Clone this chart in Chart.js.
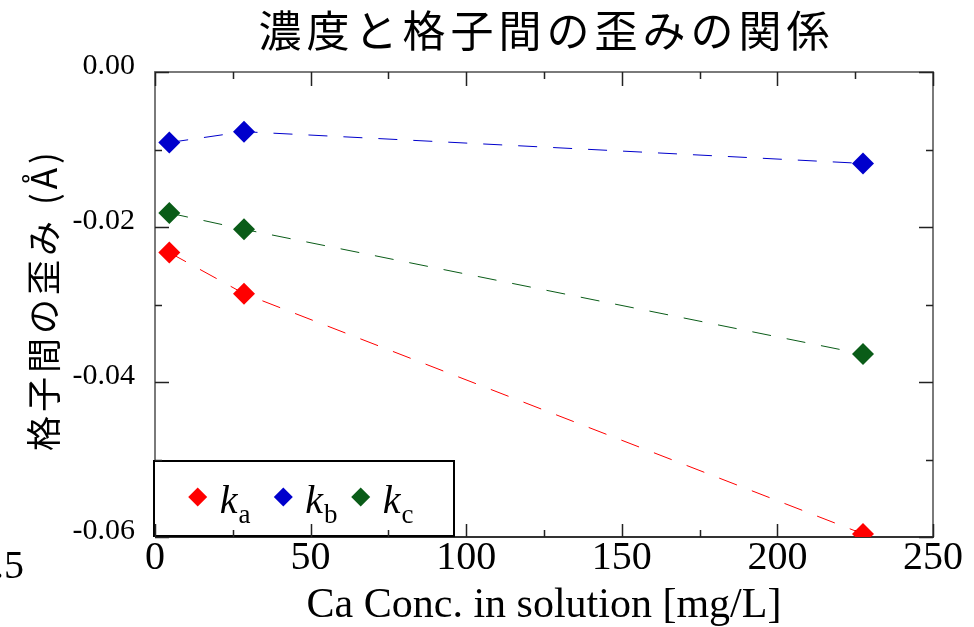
<!DOCTYPE html>
<html><head><meta charset="utf-8">
<script src="https://cdn.jsdelivr.net/npm/chart.js@4.4.1/dist/chart.umd.min.js"></script>
<style>html,body{margin:0;padding:0;background:#fff}#wrap{width:974px;height:627px}</style>
</head><body><div id="wrap"><canvas id="c" width="974" height="627"></canvas></div>
<script>
// ---- data ----
const concentration = [4.6, 28.6, 227.5];          // Ca conc. [mg/L]
const kaValues = [-0.0233, -0.0286, -0.0596];
const kbValues = [-0.0091, -0.0077, -0.0118];
const kcValues = [-0.0182, -0.0203, -0.0364];
const seriesSubscripts = ['a', 'b', 'c'];
const xTickValues = [0, 50, 100, 150, 200, 250];
const yTickValues = [0, -0.02, -0.04, -0.06];
const chartTitle = '濃度と格子間の歪みの関係';
const xAxisTitle = 'Ca Conc. in solution [mg/L]';
const yAxisTitle = '格子間の歪み (Å)';
const strayText = '.5';

const seriesList = [kaValues, kbValues, kcValues];
const palette = ['#ff0000', '#0000cc', '#0a5c18'];

const SERIF = '"Liberation Serif", "Times New Roman", serif';
const GOTHIC = '"Noto Sans CJK JP", "Noto Sans", sans-serif';

const datasets = seriesList.map((vals, i) => ({
  label: 'k' + seriesSubscripts[i],
  data: concentration.map((x, j) => ({ x: x, y: vals[j] })),
  showLine: true,
  borderColor: palette[i],
  backgroundColor: palette[i],
  borderWidth: 1,
  borderDash: [19, 16],
  pointStyle: 'rectRot',
  pointRadius: 11,
  pointHoverRadius: 11,
  pointBorderWidth: 0
}));

function midpoints(v) { const m = []; for (let i = 0; i < v.length - 1; i++) m.push((v[i] + v[i + 1]) / 2); return m; }

const decorPlugin = {
  id: 'decor',
  beforeDraw(chart) {
    const ctx = chart.ctx;
    ctx.save();
    ctx.fillStyle = '#fff';
    ctx.fillRect(0, 0, chart.width, chart.height);
    ctx.restore();
  },
  beforeDatasetsDraw(chart) {
    const ctx = chart.ctx;
    const { left, right, top, bottom } = chart.chartArea;
    const xs = chart.scales.x, ys = chart.scales.y;
    ctx.save();
    // frame
    ctx.lineWidth = 2;
    ctx.strokeStyle = '#7a7a7a';
    ctx.beginPath();
    ctx.moveTo(left, bottom); ctx.lineTo(left, top); ctx.lineTo(right, top); ctx.lineTo(right, bottom);
    ctx.stroke();
    ctx.strokeStyle = '#333';
    ctx.beginPath(); ctx.moveTo(left, bottom); ctx.lineTo(right + 1, bottom); ctx.stroke();

    // legend box
    const bl = left - 2, bt = bottom - 77, bw = 302, bh = 77;
    ctx.fillStyle = '#fff';
    ctx.fillRect(bl, bt, bw, bh);
    ctx.strokeStyle = '#000';
    ctx.lineWidth = 2;
    ctx.strokeRect(bl + 1, bt + 1, bw - 2, bh - 2);
    const itemX = [44.7, 130.3, 207.7];
    chart.data.datasets.forEach((ds, i) => {
      const cx = bl + itemX[i], cy = bt + 37;
      const r = 9.5;
      ctx.fillStyle = ds.backgroundColor;
      ctx.beginPath();
      ctx.moveTo(cx - r, cy); ctx.lineTo(cx, cy - r); ctx.lineTo(cx + r, cy); ctx.lineTo(cx, cy + r); ctx.closePath();
      ctx.fill();
      ctx.fillStyle = '#000';
      ctx.textAlign = 'left';
      ctx.textBaseline = 'alphabetic';
      ctx.font = 'italic 40px ' + SERIF;
      const kx = cx + 22;
      ctx.fillText(ds.label.charAt(0), kx, bt + 53);
      const kw = ctx.measureText(ds.label.charAt(0)).width;
      ctx.font = '27px ' + SERIF;
      ctx.fillText(ds.label.slice(1), kx + kw + 1, bt + 63);
    });

    // inward ticks
    ctx.strokeStyle = '#222';
    ctx.lineWidth = 1.5;
    const xMaj = xs.ticks.map(t => t.value), xMin = midpoints(xMaj);
    const yMaj = ys.ticks.map(t => t.value), yMin = midpoints(yMaj);
    ctx.beginPath();
    xMaj.forEach(v => { const p = Math.round(xs.getPixelForValue(v)) + 0.5; ctx.moveTo(p, bottom); ctx.lineTo(p, bottom - 13); ctx.moveTo(p, top); ctx.lineTo(p, top + 14); });
    xMin.forEach(v => { const p = Math.round(xs.getPixelForValue(v)) + 0.5; ctx.moveTo(p, bottom); ctx.lineTo(p, bottom - 7); ctx.moveTo(p, top); ctx.lineTo(p, top + 7); });
    yMaj.forEach(v => { const p = Math.round(ys.getPixelForValue(v)) + 0.5; ctx.moveTo(left, p); ctx.lineTo(left + 14, p); ctx.moveTo(right, p); ctx.lineTo(right - 14, p); });
    yMin.forEach(v => { const p = Math.round(ys.getPixelForValue(v)) + 0.5; ctx.moveTo(left, p); ctx.lineTo(left + 7, p); ctx.moveTo(right, p); ctx.lineTo(right - 7, p); });
    ctx.stroke();
    ctx.restore();
  },
  afterDraw(chart) {
    const ctx = chart.ctx;
    const { left, right, top, bottom } = chart.chartArea;
    // chart title
    ctx.save();
    ctx.fillStyle = '#000';
    ctx.font = '43px ' + GOTHIC;
    ctx.letterSpacing = '5px';
    ctx.textAlign = 'left';
    ctx.textBaseline = 'alphabetic';
    let w = ctx.measureText(chartTitle).width - 5;
    ctx.fillText(chartTitle, (left + right) / 2 - w / 2, 47.3);
    ctx.restore();
    // y axis title
    ctx.save();
    ctx.fillStyle = '#000';
    ctx.translate(56.8, (top + bottom) / 2 - 3);
    ctx.rotate(-Math.PI / 2);
    ctx.font = '35px ' + GOTHIC;
    ctx.letterSpacing = '4px';
    ctx.textAlign = 'left';
    ctx.textBaseline = 'alphabetic';
    w = ctx.measureText(yAxisTitle).width - 4;
    ctx.fillText(yAxisTitle, -w / 2, 0);
    ctx.restore();
    // stray fragment at lower left
    ctx.save();
    ctx.fillStyle = '#000';
    ctx.font = '40px ' + SERIF;
    ctx.textAlign = 'right';
    ctx.textBaseline = 'alphabetic';
    ctx.fillText(strayText, 24, 578);
    ctx.restore();
  }
};

new Chart(document.getElementById('c'), {
  type: 'scatter',
  data: { datasets: datasets },
  options: {
    responsive: false,
    animation: false,
    devicePixelRatio: 1,
    layout: { padding: { top: 72, right: 41, bottom: 0, left: 0 } },
    plugins: { legend: { display: false }, title: { display: false }, tooltip: { enabled: false } },
    scales: {
      x: {
        type: 'linear', min: 0, max: 250,
        afterBuildTicks: s => { s.ticks = xTickValues.map(v => ({ value: v })); },
        afterFit: s => { s.height = 90; },
        grid: { display: false, drawTicks: false },
        border: { display: false },
        ticks: { font: { family: SERIF, size: 40, lineHeight: 1 }, color: '#000', padding: 1, maxRotation: 0, autoSkip: false },
        title: { display: true, text: xAxisTitle, color: '#000', font: { family: SERIF, size: 42, lineHeight: 1 }, padding: { top: 0, bottom: 0 } }
      },
      y: {
        type: 'linear', min: -0.06, max: 0,
        afterBuildTicks: s => { s.ticks = yTickValues.map(v => ({ value: v })); },
        afterFit: s => { s.width = 155; },
        grid: { display: false, drawTicks: false },
        border: { display: false },
        ticks: { font: { family: SERIF, size: 30, lineHeight: 1 }, color: '#000', padding: 20, labelOffset: -5.5, autoSkip: false,
                 callback: v => (Math.abs(v) < 1e-12 ? 0 : v).toFixed(2) }
      }
    }
  },
  plugins: [decorPlugin]
});
</script>
</body></html>
